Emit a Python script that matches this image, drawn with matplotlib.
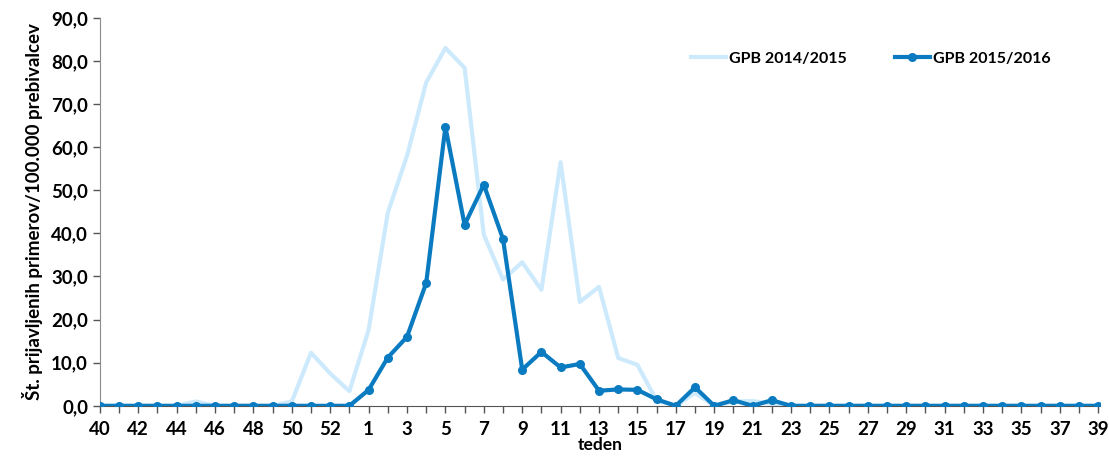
import numpy as np
import matplotlib.pyplot as plt
from matplotlib.ticker import FuncFormatter

plt.rcParams['font.family'] = ['Lato', 'DejaVu Sans']

tedni = list(range(40, 54)) + list(range(1, 40))
gpb_2014_2015 = [0, 0, 0, 0, 0, 1.0, 0, 0, 0, 0, 1.0, 12.3, 7.5, 3.4,
                 17.6, 44.8, 58.0, 75.0, 83.0, 78.4, 39.7, 29.3, 33.3, 26.9,
                 56.5, 24.1, 27.6, 11.1, 9.5, 1.2, 0, 3.0, 0, 1.0, 1.1, 0.5,
                 0, 0, 0, 0, 0, 0, 0, 0, 0, 0, 0, 0, 0, 0, 0, 0, 0]
gpb_2015_2016 = [0, 0, 0, 0, 0, 0, 0, 0, 0, 0, 0, 0, 0, 0,
                 3.7, 11.2, 16.0, 28.5, 64.7, 42.0, 51.3, 38.7, 8.4, 12.5,
                 8.9, 9.7, 3.5, 3.8, 3.7, 1.5, 0, 4.3, 0, 1.3, 0, 1.3,
                 0, 0, 0, 0, 0, 0, 0, 0, 0, 0, 0, 0, 0, 0, 0, 0, 0]

x = np.arange(len(tedni))

fig = plt.figure(figsize=(11.09, 4.57), dpi=100)
ax = fig.add_axes([0.090, 0.112, 0.902, 0.849])

ax.plot(x, gpb_2014_2015, color='#cdeafd', linewidth=3, label='GPB 2014/2015', zorder=2)
ax.plot(x, gpb_2015_2016, color='#0a7bc1', linewidth=3, marker='o', markersize=5.5,
        label='GPB 2015/2016', zorder=3)

ax.set_xlim(0, 52.1)
ax.set_ylim(0, 90)
ax.set_yticks(np.arange(0, 91, 10))
ax.yaxis.set_major_formatter(FuncFormatter(lambda v, p: f'{v:.1f}'.replace('.', ',')))
ax.set_xticks(x)
ax.set_xticklabels([str(t) if i % 2 == 0 else '' for i, t in enumerate(tedni)])
ax.tick_params(axis='both', direction='out', length=5, width=1, color='#555555',
               labelsize=13.5)
for lab in ax.get_xticklabels() + ax.get_yticklabels():
    lab.set_fontweight('bold')
ax.tick_params(axis='x', pad=6)

for s in ['top', 'right']:
    ax.spines[s].set_visible(False)
ax.spines['left'].set_color('#8c8c8c')
ax.spines['bottom'].set_color('#555555')

ax.set_xlabel('teden', fontsize=12.5, fontweight='bold', labelpad=-1)
ax.set_ylabel('Št. prijavljenih primerov/100.000 prebivalcev', fontsize=13.5,
              fontweight='bold', labelpad=6)

ax.legend(loc='upper right', bbox_to_anchor=(0.965, 0.95), ncol=2, frameon=False,
          handlelength=2.2, columnspacing=3.0, handletextpad=0.2,
          prop={'weight': 'bold', 'size': 11.5})

plt.savefig('out.png', dpi=100)
